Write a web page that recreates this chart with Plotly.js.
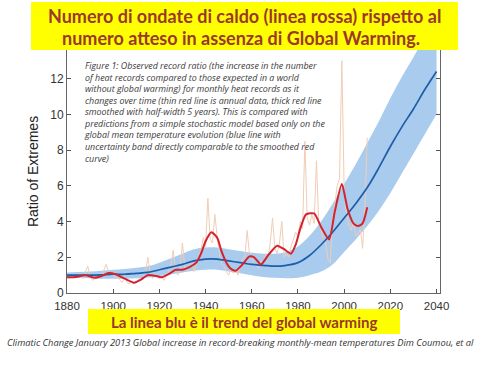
<!DOCTYPE html>
<html><head><meta charset="utf-8">
<script src="https://cdn.plot.ly/plotly-3.0.1.min.js"></script>
<style>html,body{margin:0;padding:0;background:#fff}#chart{width:480px;height:368px}</style>
</head><body><div id="chart"></div>
<script>
// Model (blue) years, mean and uncertainty band
const modelYears = [1880,1885,1890,1895,1900,1905,1910,1915,1920,1925,1930,1935,1940,1945,1950,1955,1960,1965,1970,1975,1980,1985,1990,1995,2000,2005,2010,2015,2020,2025,2030,2035,2040];
const modelMean  = [1.0,1.0,1.0,1.02,1.05,1.05,1.1,1.15,1.3,1.45,1.6,1.8,1.9,1.9,1.8,1.7,1.6,1.55,1.5,1.55,1.7,2.1,2.7,3.4,4.2,5.0,5.9,7.0,8.2,9.3,10.3,11.4,12.4];
const modelLow   = [0.85,0.85,0.82,0.8,0.8,0.8,0.82,0.87,0.95,1.05,1.15,1.25,1.3,1.3,1.2,1.1,1.0,0.9,0.85,0.82,0.85,1.0,1.2,1.6,2.3,3.0,3.75,4.6,5.6,6.7,7.8,8.9,10.0];
const modelHigh  = [1.15,1.18,1.2,1.25,1.3,1.35,1.42,1.5,1.7,1.95,2.2,2.45,2.55,2.55,2.45,2.35,2.25,2.2,2.2,2.3,2.6,3.2,4.0,5.0,6.1,7.2,8.4,9.6,10.9,12.1,13.2,14.3,15.2];

// Observed annual record ratio (thin red line), 1880-2010
const annualStart = 1880;
const annualRatio = [
 0.9,0.8,1.0,0.85,0.9,1.1,0.95,0.8,1.2,1.5,
 0.9,0.7,0.8,0.95,0.9,1.0,1.3,1.6,1.2,1.0,
 1.1,0.8,1.0,0.7,0.6,0.9,0.6,0.5,0.7,0.5,
 0.6,0.8,0.7,0.9,1.2,2.0,1.1,0.8,1.0,0.9,
 0.8,0.9,0.7,1.0,1.2,1.6,2.4,1.2,1.0,1.3,
 2.8,1.4,1.2,1.5,1.8,1.2,1.6,2.0,2.4,3.1,
 2.6,5.3,3.0,2.8,4.4,3.2,2.2,1.6,1.5,1.2,
 1.0,1.4,1.1,1.3,1.0,1.5,1.9,2.0,3.5,2.2,
 2.0,1.7,1.5,1.4,1.8,1.6,2.2,2.0,2.8,4.2,
 2.5,2.2,2.8,4.0,2.0,2.2,2.0,2.6,3.0,3.4,
 3.2,4.0,3.6,8.5,4.2,3.8,4.4,3.9,7.4,4.0,
 3.5,3.0,2.8,1.9,1.7,4.2,5.0,6.0,6.4,13.0,
 5.8,4.4,3.8,3.5,4.0,3.2,3.3,3.6,2.5,4.8,
 8.7];
const annualYears = annualRatio.map((_, i) => annualStart + i);

// Smoothed observed ratio (thick red line)
const smoothYears = [1880,1884,1888,1892,1895,1898,1901,1905,1909,1912,1915,1918,1921,1924,1927,1930,1933,1936,1938,1940,1942.5,1945,1947,1949,1951,1953,1956,1959,1961,1964,1967,1971,1974,1977,1979,1981,1983.5,1987,1990,1993.5,1996,1999,2001.5,2004,2006,2008,2010];
const smoothRatio = [0.88,0.9,1.0,0.85,0.95,1.12,1.05,0.8,0.58,0.75,1.0,0.97,0.88,1.05,1.3,1.3,1.45,1.7,2.2,2.9,3.4,3.1,2.3,1.7,1.35,1.25,1.6,2.05,2.0,1.6,2.1,2.65,2.45,2.2,2.7,3.6,4.4,4.45,3.7,3.0,4.6,6.1,4.7,3.9,3.75,3.9,4.8];

const xTicks = [1880,1900,1920,1940,1960,1980,2000,2020,2040];
const yTicks = [0,2,4,6,8,10,12];

const titleLines = ["Numero di ondate di caldo (linea rossa) rispetto al","numero atteso in assenza di Global Warming."];
const bottomNote = "La linea blu è il trend del global warming";
const sourceNote = "Climatic Change January 2013 Global increase in record-breaking monthly-mean temperatures Dim Coumou, et al";
const figCaption = ["Figure 1: Observed record ratio (the increase in the number","of heat records compared to those expected in a world","without global warming) for monthly heat records as it","changes over time (thin red line is annual data, thick red line","smoothed with half-width 5 years). This is compared with","predictions from a simple stochastic model based only on the","global mean temperature evolution (blue line with","uncertainty band directly comparable to the smoothed red","curve)"];

// pixel -> paper helpers
const L = 67, R = 440, T = 50, B = 293;
const px = v => (v - L) / (R - L);
const py = v => (B - v) / (B - T);
const capFont = 'Open Sans, DejaVu Sans, sans-serif';

const traces = [
  {x: modelYears, y: modelLow, mode: 'lines', line: {width: 0, shape: 'spline'}, hoverinfo: 'skip', showlegend: false},
  {x: modelYears, y: modelHigh, mode: 'lines', fill: 'tonexty', fillcolor: '#a9cbee', line: {width: 0, shape: 'spline'}, hoverinfo: 'skip', showlegend: false},
  {x: annualYears, y: annualRatio, mode: 'lines', line: {color: '#f1cdb6', width: 1}, showlegend: false},
  {x: modelYears, y: modelMean, mode: 'lines', line: {color: '#1d5ea8', width: 1.7, shape: 'spline'}, showlegend: false},
  {x: smoothYears, y: smoothRatio, mode: 'lines', line: {color: '#d4232f', width: 2, shape: 'spline', smoothing: 0.6}, showlegend: false}
];

const layout = {
  width: 480, height: 368,
  margin: {l: L, r: 480 - R, t: T, b: 368 - B},
  paper_bgcolor: '#fff', plot_bgcolor: '#fff',
  font: {family: 'Liberation Sans, Arial, sans-serif', color: '#333', size: 12},
  xaxis: {range: [1880, 2041.5], tickvals: xTicks, ticks: 'inside', ticklen: 4, tickcolor: '#555',
          showline: true, linecolor: '#666', linewidth: 1, showgrid: false, zeroline: false,
          tickfont: {size: 11.5, color: '#333'}, mirror: false, ticklabelstandoff: 2},
  yaxis: {range: [0, 13.6], tickvals: yTicks, ticks: 'inside', ticklen: 4, tickcolor: '#555',
          showline: true, linecolor: '#666', linewidth: 1, showgrid: false, zeroline: false,
          mirror: 'ticks', tickfont: {size: 12, color: '#333'},
          title: {text: 'Ratio of Extremes', font: {size: 14, color: '#222'}, standoff: 8}},
  shapes: [
    {type: 'rect', xref: 'paper', yref: 'paper', x0: px(31), x1: px(458), y0: py(50), y1: py(2), fillcolor: '#ffff00', line: {width: 0}, layer: 'above'},
    {type: 'rect', xref: 'paper', yref: 'paper', x0: px(88), x1: px(400), y0: py(334), y1: py(309), fillcolor: '#ffff00', line: {width: 0}, layer: 'above'}
  ],
  annotations: [
    {xref: 'paper', yref: 'paper', x: px(244), y: py(16), xanchor: 'center', yanchor: 'middle', showarrow: false,
     text: '<b>' + titleLines[0] + '</b>', font: {family: 'Lato, Open Sans, sans-serif', size: 18, color: '#9a3829'}},
    {xref: 'paper', yref: 'paper', x: px(241), y: py(38), xanchor: 'center', yanchor: 'middle', showarrow: false,
     text: '<b>' + titleLines[1] + '</b>', font: {family: 'Lato, Open Sans, sans-serif', size: 18, color: '#9a3829'}},
    {xref: 'paper', yref: 'paper', x: px(244), y: py(322), xanchor: 'center', yanchor: 'middle', showarrow: false,
     text: '<b>' + bottomNote + '</b>', font: {family: 'Lato, Open Sans, sans-serif', size: 15, color: '#9a3829'}},
    {xref: 'paper', yref: 'paper', x: px(240), y: py(342), xanchor: 'center', yanchor: 'middle', showarrow: false,
     text: '<i>' + sourceNote + '</i>', font: {family: capFont, size: 9.3, color: '#333'}},
    {xref: 'paper', yref: 'paper', x: px(82), y: py(57), xanchor: 'left', yanchor: 'top', align: 'left', showarrow: false,
     text: figCaption.map(s => '<i>' + s + '</i>').join('<br>'), font: {family: capFont, size: 8.9, color: '#3a3a3a'}}
  ]
};

Plotly.newPlot('chart', traces, layout, {displayModeBar: false, staticPlot: true});
</script></body></html>
